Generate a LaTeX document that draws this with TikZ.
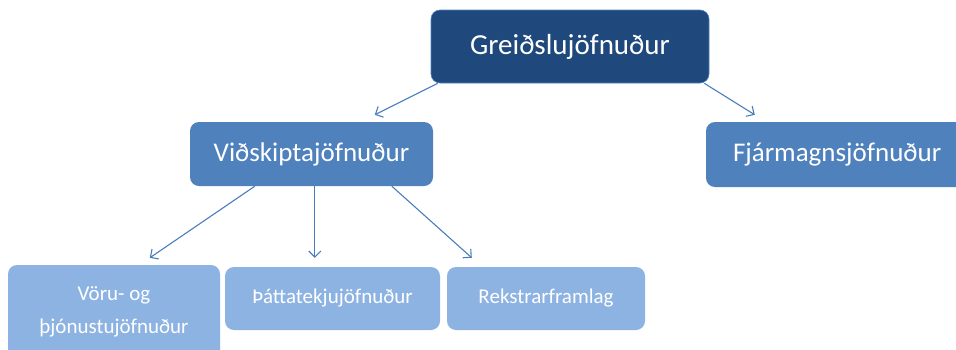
\documentclass[tikz,border=0pt]{standalone}
\usepackage{fontspec}
\setmainfont{Carlito}
\usetikzlibrary{arrows.meta}
\definecolor{dkblue}{HTML}{1F497D}
\definecolor{mdblue}{HTML}{4F81BD}
\definecolor{ltblue}{HTML}{8DB3E2}
\definecolor{arrblue}{HTML}{4A7EBB}
\tikzset{
  box/.style={rounded corners=9pt, inner sep=0pt, align=center, text=white},
  topbox/.style={box, fill=dkblue, draw=mdblue, line width=0.6pt, font=\fontsize{29}{33}\selectfont},
  midbox/.style={box, fill=mdblue, font=\fontsize{27}{31}\selectfont},
  lowbox/.style={box, fill=ltblue, font=\fontsize{21}{33}\selectfont},
  arr/.style={draw=arrblue, line width=1.1pt, -{Straight Barb[length=6pt,width=12pt,line width=1.1pt]}}
}
\begin{document}
\begin{tikzpicture}[x=1pt,y=-1pt]
\useasboundingbox (0,0) rectangle (956,349);
\node[topbox, minimum width=278pt, minimum height=73pt] (g) at (570,46.5) {Greiðslujöfnuður};
\node[midbox, minimum width=243pt, minimum height=64pt] (v) at (311.5,154) {Viðskiptajöfnuður};
\node[midbox, minimum width=260pt, minimum height=65pt, text width=250pt, align=left] (f) at (836,154.5) {\hspace*{22pt}Fjármagnsjöfnuður};
\node[lowbox, minimum width=212pt, minimum height=94pt] (vo) at (114,312) {Vöru- og\\þjónustujöfnuður};
\node[lowbox, minimum width=215pt, minimum height=63pt] (t) at (332.5,298.5) {Þáttatekjujöfnuður};
\node[lowbox, minimum width=198pt, minimum height=63pt] (r) at (546,298.5) {Rekstrarframlag};
\draw[arr] ([xshift=7pt]g.south west) -- ([xshift=185pt,yshift=7pt]v.north west);
\draw[arr] ([xshift=-5pt]g.south east) -- ([xshift=49pt,yshift=7pt]f.north west);
\draw[arr] ([xshift=65pt]v.south west) -- ([xshift=142pt,yshift=7pt]vo.north west);
\draw[arr] ([xshift=125pt]v.south west) -- ([xshift=90pt,yshift=9pt]t.north west);
\draw[arr] ([xshift=202pt]v.south west) -- ([xshift=25pt,yshift=9pt]r.north west);
\end{tikzpicture}
\end{document}
